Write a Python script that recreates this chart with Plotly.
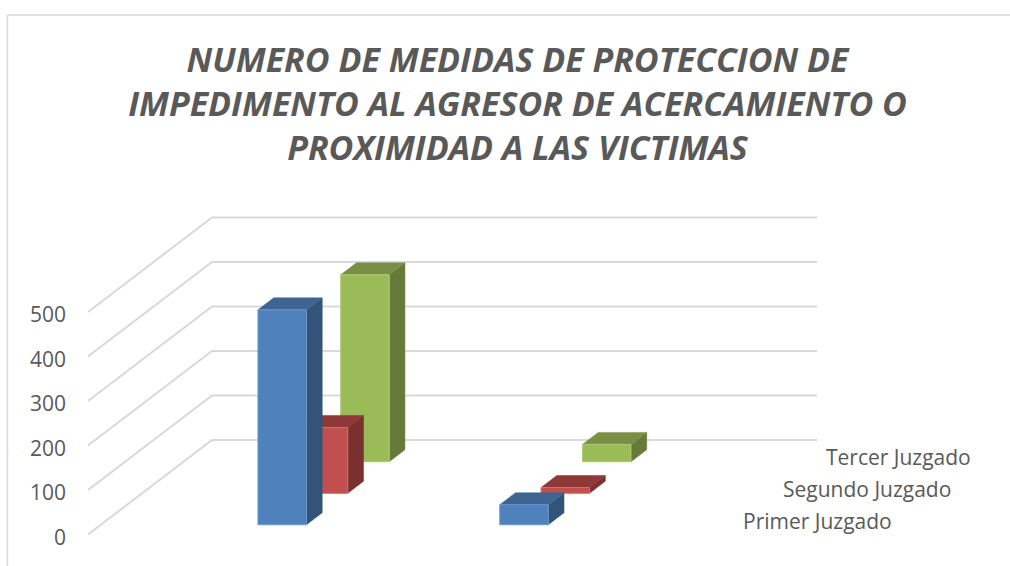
import plotly.graph_objects as go

categories = ["Grupo 1", "Grupo 2"]
series_names = ["Primer Juzgado", "Segundo Juzgado", "Tercer Juzgado"]
primer_values = [483, 45]
segundo_values = [148, 13]
tercer_values = [420, 39]
y_ticks = [0, 100, 200, 300, 400, 500]

series_values = [primer_values, segundo_values, tercer_values]
front_colors = ["#4F81BD", "#C0504D", "#9BBB59"]
side_colors = ["#335479", "#7A302E", "#667A3A"]
top_colors = ["#3E6591", "#8E3937", "#788F45"]
edge_colors = ["#6C97CC", "#D0706D", "#AECB72"]

W, H = 1010, 566
ML = 88
PX_PER_UNIT = 0.445          # pixels for one value unit
Y0_PX = 534.5                # pixel row of value 0 on the front edge
DEPTH_X = 124.0              # horizontal run of the floor, in x units
DEPTH_Y = 94.5 / PX_PER_UNIT # vertical run of the floor, in value units
WALL_X = 605.0
BAR_W = 48.5
BAR_D = 0.127
CAT_X = [157.2, 399.0]
SERIES_D = [0.103, 0.436, 0.77]


def project(x, value, depth):
    """Oblique projection of a point of the 3-D chart on the 2-D axes."""
    return x + DEPTH_X * depth, value + DEPTH_Y * depth


def poly(points, fill, line, width=1.0):
    xs, ys = zip(*[project(*p) for p in points])
    return go.Scatter(x=list(xs) + [xs[0]], y=list(ys) + [ys[0]], mode="lines",
                      fill="toself", fillcolor=fill,
                      line=dict(color=line, width=width),
                      hoverinfo="skip", showlegend=False)


fig = go.Figure()

# Gridlines: side wall diagonal and back wall run
for v in y_ticks:
    xs, ys = zip(project(0, v, 0), project(0, v, 1), project(WALL_X, v, 1))
    fig.add_trace(go.Scatter(x=xs, y=ys, mode="lines",
                             line=dict(color="#D9D9D9", width=2),
                             hoverinfo="skip", showlegend=False))

# Columns, back to front
for s in (2, 1, 0):
    d0, d1 = SERIES_D[s], SERIES_D[s] + BAR_D
    for c in range(len(categories)):
        x0, x1 = CAT_X[c], CAT_X[c] + BAR_W
        v = series_values[s][c]
        fig.add_trace(poly([(x1, 0, d0), (x1, 0, d1), (x1, v, d1), (x1, v, d0)],
                           side_colors[s], side_colors[s], 0.5))
        fig.add_trace(poly([(x0, v, d0), (x1, v, d0), (x1, v, d1), (x0, v, d1)],
                           top_colors[s], top_colors[s], 0.5))
        fig.add_trace(poly([(x0, 0, d0), (x1, 0, d0), (x1, v, d0), (x0, v, d0)],
                           front_colors[s], edge_colors[s], 1.0))


def px(x):
    return (x - ML) / (W - ML)


def py(y):
    return 1 - y / H


# Depth-axis labels
label_px_x = [741, 781, 824]
label_px_y = [521, 489, 457]
annotations = []
for s, name in enumerate(series_names):
    annotations.append(dict(
        x=px(label_px_x[s]), xref="paper",
        y=py(label_px_y[s]), yref="paper",
        text=name, showarrow=False, xanchor="left", yanchor="middle",
        font=dict(family="Open Sans", size=21, color="#595959")))

frame = dict(color="#D9D9D9", width=1.5)
shapes = [
    dict(type="line", xref="paper", yref="paper",
         x0=px(7.5), x1=px(7.5), y0=py(15), y1=py(566), line=frame),
    dict(type="line", xref="paper", yref="paper",
         x0=px(7.5), x1=px(1010), y0=py(15), y1=py(15), line=frame),
]

fig.update_layout(
    width=W, height=H,
    margin=dict(l=ML, r=0, t=0, b=0, autoexpand=False),
    paper_bgcolor="white", plot_bgcolor="rgba(0,0,0,0)",
    showlegend=False,
    title=dict(
        text="<b><i>NUMERO DE MEDIDAS DE PROTECCION DE<br>"
             "IMPEDIMENTO AL AGRESOR DE ACERCAMIENTO O<br>"
             "PROXIMIDAD A LAS VICTIMAS</i></b>",
        x=517.5 / W, xref="container", xanchor="center",
        y=1 - 72 / H, yref="container", yanchor="top",
        font=dict(family="Open Sans", size=34, color="#595959")),
    xaxis=dict(range=[0, W - ML], visible=False, fixedrange=True),
    yaxis=dict(range=[(Y0_PX - H) / PX_PER_UNIT, Y0_PX / PX_PER_UNIT],
               tickvals=y_ticks, ticktext=[str(t) for t in y_ticks],
               ticks="", showgrid=False, zeroline=False, showline=False,
               ticklabelstandoff=21, ticklabelshift=3, fixedrange=True,
               tickfont=dict(family="Open Sans", size=21, color="#595959")),
    annotations=annotations, shapes=shapes,
)

fig.write_html("out.html", config={"displayModeBar": False},
               post_script="document.body.style.margin='0';document.body.style.overflow='hidden';")
